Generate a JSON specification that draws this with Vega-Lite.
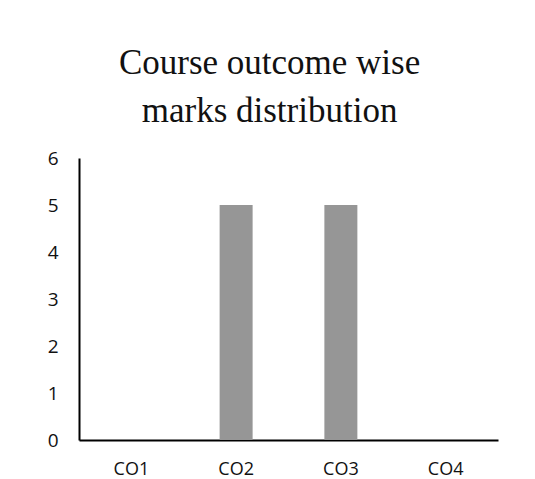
{
  "$schema": "https://vega.github.io/schema/vega-lite/v6.json",
  "width": 419,
  "height": 282,
  "autosize": {"type": "none"},
  "padding": {"left": 79, "top": 158, "right": 37, "bottom": 39},
  "background": "white",
  "title": {
    "text": ["Course outcome wise", "marks distribution"],
    "font": "Liberation Serif",
    "fontSize": 35,
    "fontWeight": "normal",
    "color": "#111111",
    "anchor": "middle",
    "frame": "bounds",
    "lineHeight": 48,
    "offset": 20,
    "dx": -3
  },
  "data": {
    "values": [
      {"co": "CO1", "marks": 0},
      {"co": "CO2", "marks": 5},
      {"co": "CO3", "marks": 5},
      {"co": "CO4", "marks": 0}
    ]
  },
  "mark": {"type": "bar", "color": "#969696"},
  "encoding": {
    "x": {
      "field": "co",
      "type": "nominal",
      "sort": null,
      "scale": {"paddingInner": 0.685, "paddingOuter": 0.3425},
      "axis": {
        "title": null,
        "labelAngle": 0,
        "ticks": false,
        "labelPadding": 20,
        "labelFont": "Open Sans",
        "labelFontSize": 18,
        "labelColor": "#111111",
        "domainColor": "#000000",
        "domainWidth": 2
      }
    },
    "y": {
      "field": "marks",
      "type": "quantitative",
      "scale": {"domain": [0, 6]},
      "axis": {
        "title": null,
        "values": [0, 1, 2, 3, 4, 5, 6],
        "grid": false,
        "ticks": false,
        "labelPadding": 21,
        "labelFont": "Open Sans",
        "labelFontSize": 19,
        "labelColor": "#111111",
        "domainColor": "#000000",
        "domainWidth": 2
      }
    }
  },
  "config": {"view": {"stroke": null}}
}
